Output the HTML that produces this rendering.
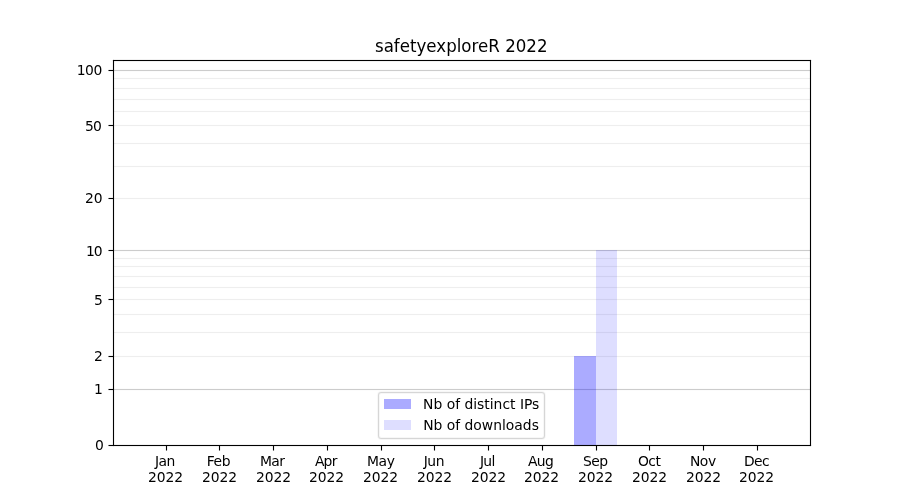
<!DOCTYPE html>
<html lang="en">
<head>
<meta charset="utf-8">
<title>safetyexploreR 2022</title>
<style>
html,body{margin:0;padding:0;background:#fff;}
body{width:900px;height:500px;overflow:hidden;position:relative;font-family:"DejaVu Sans","Liberation Sans",sans-serif;color:#000;}
#fig{position:absolute;left:0;top:0;width:900px;height:500px;background:#fff;overflow:hidden;}
#fig div{position:absolute;}
.gM{left:114px;width:696px;height:1px;background:#ccc;box-shadow:0 1px 0 #fcfcfc,0 -1px 0 #fcfcfc;}
.gm{left:114px;width:696px;height:1px;background:#eee;box-shadow:0 1px 0 #fefefe,0 -1px 0 #fefefe;}
.bar1{background:rgba(0,0,255,0.33);}
.bar2{background:rgba(0,0,255,0.13);}
.sh{height:1px;background:#000;box-shadow:0 1px 0 rgba(0,0,0,0.055),0 -1px 0 rgba(0,0,0,0.055),1px 0 0 rgba(0,0,0,0.055),-1px 0 0 rgba(0,0,0,0.055);}
.sv{width:1px;background:#000;box-shadow:1px 0 0 rgba(0,0,0,0.055),-1px 0 0 rgba(0,0,0,0.055),0 1px 0 rgba(0,0,0,0.055),0 -1px 0 rgba(0,0,0,0.055);}
.ty{left:109px;width:4px;height:1px;background:#000;box-shadow:0 1px 0 rgba(0,0,0,0.055),0 -1px 0 rgba(0,0,0,0.055),-1px 0 0 rgba(0,0,0,0.5);}
.ty::before{content:"";position:absolute;left:-1px;top:-1px;width:1px;height:3px;background:rgba(0,0,0,0.027);}
.tx{top:446px;width:1px;height:4px;background:#000;box-shadow:1px 0 0 rgba(0,0,0,0.055),-1px 0 0 rgba(0,0,0,0.055),0 1px 0 rgba(0,0,0,0.5);}
.tx::before{content:"";position:absolute;left:-1px;top:4px;width:3px;height:1px;background:rgba(0,0,0,0.027);}
.t{white-space:nowrap;font-size:13.889px;line-height:16px;}
.yl{text-align:right;width:60px;}
.xl{text-align:center;width:80px;}
#title{font-size:16.667px;line-height:20px;width:400px;text-align:center;white-space:nowrap;transform-origin:50% 80%;}
#leg{left:378px;top:392px;width:165px;height:45px;border:1px solid rgba(204,204,204,0.8);border-radius:3.3px;background:rgba(255,255,255,0.8);box-shadow:0 0 0 1px rgba(204,204,204,0.157),inset 0 0 0 1px rgba(204,204,204,0.157);}
.p{left:384px;width:27px;height:10px;}
</style>
</head>
<body>
<div id="fig">
<div class="gm" style="top:356px"></div>
<div class="gm" style="top:332px"></div>
<div class="gm" style="top:314px"></div>
<div class="gm" style="top:299px"></div>
<div class="gm" style="top:287px"></div>
<div class="gm" style="top:276px"></div>
<div class="gm" style="top:266px"></div>
<div class="gm" style="top:258px"></div>
<div class="gm" style="top:198px"></div>
<div class="gm" style="top:166px"></div>
<div class="gm" style="top:143px"></div>
<div class="gm" style="top:125px"></div>
<div class="gm" style="top:111px"></div>
<div class="gm" style="top:99px"></div>
<div class="gm" style="top:88px"></div>
<div class="gm" style="top:78px"></div>
<div class="gM" style="top:389px"></div>
<div class="gM" style="top:250px"></div>
<div class="gM" style="top:70px"></div>
<div class="bar1" style="left:574px;top:356px;width:22px;height:89px"></div>
<div class="bar2" style="left:596px;top:250px;width:21px;height:195px"></div>
<div class="ty" style="top:445px"></div>
<div class="ty" style="top:389px"></div>
<div class="ty" style="top:356px"></div>
<div class="ty" style="top:299px"></div>
<div class="ty" style="top:250px"></div>
<div class="ty" style="top:198px"></div>
<div class="ty" style="top:125px"></div>
<div class="ty" style="top:70px"></div>
<div class="tx" style="left:166px"></div>
<div class="tx" style="left:219px"></div>
<div class="tx" style="left:273px"></div>
<div class="tx" style="left:327px"></div>
<div class="tx" style="left:381px"></div>
<div class="tx" style="left:434px"></div>
<div class="tx" style="left:488px"></div>
<div class="tx" style="left:542px"></div>
<div class="tx" style="left:596px"></div>
<div class="tx" style="left:649px"></div>
<div class="tx" style="left:703px"></div>
<div class="tx" style="left:757px"></div>
<div class="sv" style="left:113px;top:60px;height:386px"></div>
<div class="sv" style="left:810px;top:60px;height:386px"></div>
<div class="sh" style="left:113px;top:60px;width:698px"></div>
<div class="sh" style="left:113px;top:445px;width:698px"></div>
<div class="t yl" style="left:42.91px;top:437px;letter-spacing:-0.900px">0</div>
<div class="t yl" style="left:41.91px;top:381px;letter-spacing:-0.900px">1</div>
<div class="t yl" style="left:41.91px;top:348px;letter-spacing:-0.900px">2</div>
<div class="t yl" style="left:41.91px;top:292px;letter-spacing:-0.900px">5</div>
<div class="t yl" style="left:41.78px;top:243px;letter-spacing:-0.900px">10</div>
<div class="t yl" style="left:42.28px;top:190px;letter-spacing:-0.225px">20</div>
<div class="t yl" style="left:41.28px;top:118px;letter-spacing:-0.675px">50</div>
<div class="t yl" style="left:41.78px;top:62px;letter-spacing:-0.450px">100</div>
<div class="t xl" style="left:124.82px;top:453px;letter-spacing:-0.600px">Jan</div>
<div class="t xl" style="left:125.45px;top:469px;letter-spacing:-0.075px">2022</div>
<div class="t xl" style="left:178.44px;top:453px;letter-spacing:-0.450px">Feb</div>
<div class="t xl" style="left:179.44px;top:469px;letter-spacing:-0.075px">2022</div>
<div class="t xl" style="left:232.17px;top:453px;letter-spacing:-0.675px">Mar</div>
<div class="t xl" style="left:233.42px;top:469px;letter-spacing:-0.075px">2022</div>
<div class="t xl" style="left:285.78px;top:453px;letter-spacing:-0.750px">Apr</div>
<div class="t xl" style="left:286.41px;top:469px;letter-spacing:-0.075px">2022</div>
<div class="t xl" style="left:340.77px;top:453px;letter-spacing:-0.450px">May</div>
<div class="t xl" style="left:340.40px;top:469px;letter-spacing:-0.075px">2022</div>
<div class="t xl" style="left:393.88px;top:453px;letter-spacing:-0.450px">Jun</div>
<div class="t xl" style="left:394.51px;top:469px;letter-spacing:-0.075px">2022</div>
<div class="t xl" style="left:447.24px;top:453px;letter-spacing:-0.675px">Jul</div>
<div class="t xl" style="left:448.49px;top:469px;letter-spacing:-0.075px">2022</div>
<div class="t xl" style="left:500.60px;top:453px;letter-spacing:-0.675px">Aug</div>
<div class="t xl" style="left:501.48px;top:469px;letter-spacing:-0.150px">2022</div>
<div class="t xl" style="left:555.22px;top:453px;letter-spacing:-0.600px">Sep</div>
<div class="t xl" style="left:555.47px;top:469px;letter-spacing:-0.150px">2022</div>
<div class="t xl" style="left:609.20px;top:453px;letter-spacing:-0.525px">Oct</div>
<div class="t xl" style="left:609.45px;top:469px;letter-spacing:-0.075px">2022</div>
<div class="t xl" style="left:662.81px;top:453px;letter-spacing:-0.450px">Nov</div>
<div class="t xl" style="left:663.44px;top:469px;letter-spacing:-0.075px">2022</div>
<div class="t xl" style="left:716.43px;top:453px;letter-spacing:-0.600px">Dec</div>
<div class="t xl" style="left:716.43px;top:469px;letter-spacing:-0.075px">2022</div>
<div id="title" style="left:261.25px;top:36.5px;transform:scaleY(1.06)">safetyexploreR 2022</div>
<div id="leg"></div>
<div class="p bar1" style="top:399px"></div>
<div class="p bar2" style="top:420px"></div>
<div class="t" style="left:423.05px;top:396px">Nb of distinct IPs</div>
<div class="t" style="left:423.18px;top:417px">Nb of downloads</div>
</div>
</body>
</html>
